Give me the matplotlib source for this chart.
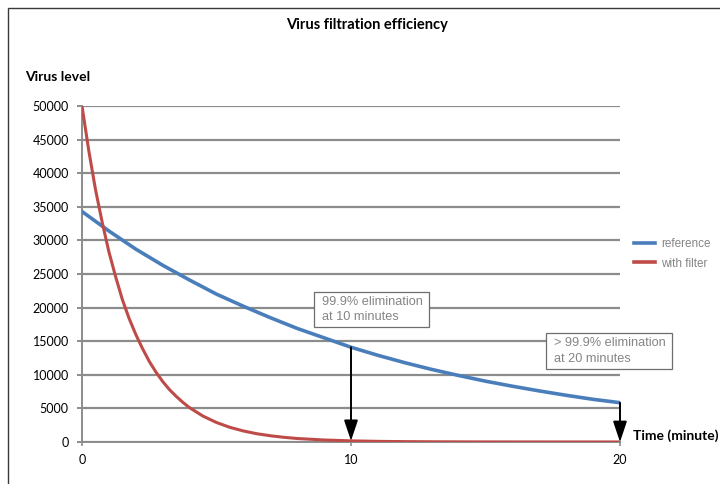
import matplotlib.pyplot as plt
from matplotlib.patches import Rectangle

# values
ref_t = [0, 1, 2, 3, 4, 5, 6, 7, 8, 9, 10, 11, 12, 13, 14, 15, 16, 17, 18, 19, 20]
ref_v = [34300, 31400, 28700, 26300, 24100, 22000, 20200, 18500, 16900, 15500,
         14100, 12900, 11800, 10800, 9900, 9050, 8300, 7600, 6950, 6350, 5850]

filt_t = [0, 0.25, 0.5, 0.75, 1, 1.25, 1.5, 1.75, 2, 2.25, 2.5, 2.75, 3, 3.25, 3.5,
          3.75, 4, 4.5, 5, 5.5, 6, 6.5, 7, 7.5, 8, 9, 10, 11, 12, 13, 14, 15, 16,
          17, 18, 19, 20]
filt_v = [50000, 43400, 37600, 32700, 28300, 24600, 21200, 18400, 16000, 13900,
          12000, 10400, 9000, 7800, 6800, 5900, 5100, 3850, 2900, 2180, 1640, 1230,
          930, 700, 520, 300, 170, 95, 55, 30, 18, 10, 6, 4, 2, 1, 1]

y_ticks = [0, 5000, 10000, 15000, 20000, 25000, 30000, 35000, 40000, 45000, 50000]
x_ticks = [0, 10, 20]
notes = ["99.9% elimination\nat 10 minutes", "> 99.9% elimination\nat 20 minutes"]

BLUE = "#4a7ebb"
RED = "#be4b48"
GRID = "#8c8c8c"
NOTE = "#858585"
FONT = "Lato"
SANS = "Liberation Sans"
W, H = 720, 484

fig = plt.figure(figsize=(7.2, 4.84), dpi=100)
fig.patches.append(Rectangle((8 / W, -0.2), 1.2, 1.2 - 8 / H,
                             transform=fig.transFigure, fill=False,
                             edgecolor="#3a3a3a", linewidth=1.0))
ax = fig.add_axes([82 / W, 1 - 442 / H, (620 - 82) / W, (442 - 106) / H])

ax.plot(ref_t, ref_v, color=BLUE, linewidth=2.6, label="reference", zorder=3)
ax.plot(filt_t, filt_v, color=RED, linewidth=2.2, label="with filter", zorder=3)

ax.set_xlim(0, 20)
ax.set_ylim(0, 50000)
ax.set_xticks(x_ticks)
ax.set_yticks(y_ticks)
ax.grid(axis="y", color=GRID, linewidth=1.6)
ax.set_axisbelow(True)
for s in ["top", "right"]:
    ax.spines[s].set_visible(False)
for s in ["left", "bottom"]:
    ax.spines[s].set_color(GRID)
    ax.spines[s].set_linewidth(1.4)
ax.tick_params(axis="y", direction="out", length=3.5, color=GRID, width=1.4, pad=6,
               labelsize=9, labelcolor="black")
ax.tick_params(axis="x", direction="inout", length=6, color=GRID, width=1.2, pad=6,
               labelsize=9, labelcolor="black")
for lab in ax.get_xticklabels() + ax.get_yticklabels():
    lab.set_fontfamily(FONT)

fig.text(367 / W, 1 - 25 / H, "Virus filtration efficiency", ha="center", va="center",
         fontsize=10.5, fontweight="bold", family=FONT)
fig.text(25 / W, 1 - 77 / H, "Virus level", ha="left", va="center",
         fontsize=10, fontweight="bold", family=FONT)
fig.text(633 / W, 1 - 436 / H, "Time (minute)", ha="left", va="center",
         fontsize=10, fontweight="bold", family=FONT)

# arrows from the reference curve down to the filtered curve
for t in [10, 20]:
    y0 = ref_v[ref_t.index(t)]
    y1 = filt_v[filt_t.index(t)]
    ax.annotate("", xy=(t, y1), xytext=(t, y0),
                arrowprops=dict(arrowstyle="-|>,head_length=1.25,head_width=0.42",
                                color="black", linewidth=1.4, shrinkA=0, shrinkB=0),
                zorder=5, annotation_clip=False)

# note boxes (pixel rectangles: left, top, right, bottom)
boxes = [(314, 292, 429, 327), (546, 333, 672, 369)]
for (x0, y0, x1, y1), txt in zip(boxes, notes):
    fig.patches.append(Rectangle((x0 / W, 1 - y1 / H), (x1 - x0) / W, (y1 - y0) / H,
                                 transform=fig.transFigure, facecolor="white",
                                 edgecolor="#6e6e6e", linewidth=0.9, zorder=6))
    fig.text((x0 + 8.5) / W, 1 - (y0 + y1) / 2 / H, txt, ha="left", va="center",
             fontsize=9.2, color=NOTE, family=SANS, linespacing=1.35, zorder=7)

leg = ax.legend(loc="center left", bbox_to_anchor=(625 / W, 1 - 254 / H),
                bbox_transform=fig.transFigure, frameon=False, handlelength=1.7,
                handletextpad=0.55, labelspacing=0.6, borderpad=0.3,
                prop={"family": SANS, "size": 8.5})
for t in leg.get_texts():
    t.set_color(NOTE)
for h in leg.get_lines():
    h.set_linewidth(2.6)

fig.savefig("out.png", dpi=100)
